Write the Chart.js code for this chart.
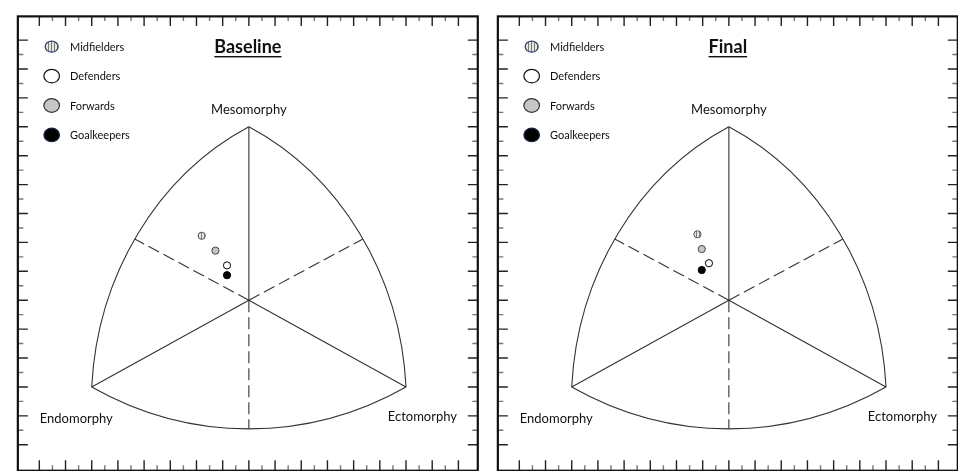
<!DOCTYPE html>
<html>
<head>
<meta charset="utf-8">
<script src="https://cdn.jsdelivr.net/npm/chart.js@4.4.1/dist/chart.umd.min.js"></script>
<style>
  html, body { margin: 0; padding: 0; background: #fff; overflow: hidden; }
  #wrap { position: relative; width: 958px; height: 471px; overflow: hidden; }
  .panel { position: absolute; top: 0; width: 484px; height: 471px; }
</style>
</head>
<body>
<div id="wrap">
  <div class="panel" style="left:0"><canvas id="baselineChart" width="484" height="471"></canvas></div>
  <div class="panel" style="left:480px"><canvas id="finalChart" width="484" height="471"></canvas></div>
</div>
<script>
// somatoplot coordinates (X = ecto - endo, Y = 2*meso - (endo + ecto))
var positions = ["Midfielders", "Defenders", "Forwards", "Goalkeepers"];
var baselineX = [-3.60, -1.67, -2.55, -1.67];
var baselineY = [4.46, 2.41, 3.43, 1.73];
var finalX = [-2.40, -1.52, -2.07, -2.07];
var finalY = [4.56, 2.56, 3.54, 2.09];
var panelTitles = ["Baseline", "Final"];
var axisNames = ["Mesomorphy", "Endomorphy", "Ectomorphy"];

// outline of the somatochart
var corners = { meso: [0, 12], endo: [-12, -6], ecto: [12, -6] };
var bulges = { left: [-8.71, 4.24], right: [8.71, 4.24], bottom: [0, -8.9] };
var box = { left: -17.64, right: 17.48, top: 19.64, bottom: -11.8 };

var xTickVals = [];
for (var i = -16; i <= 16; i++) xTickVals.push(i);
var yTickVals = [];
for (var j = -10; j <= 18; j++) yTickVals.push(j);

function stripePattern() {
  var c = document.createElement("canvas");
  c.width = 3;
  c.height = 3;
  var g = c.getContext("2d");
  g.fillStyle = "#e4e4e4";
  g.fillRect(0, 0, 3, 3);
  g.fillStyle = "#7c7c7c";
  g.fillRect(0, 0, 1, 3);
  return g.createPattern(c, "repeat");
}

var fills = [stripePattern(), "#ffffff", "#c6c6c6", "#000000"];
var borders = ["#555555", "#000000", "#444444", "#000000"];
var legendBorders = ["#2c3d63", "#111111", "#333333", "#1b2847"];

function circleThrough(a, b, c) {
  var d = 2 * (a[0] * (b[1] - c[1]) + b[0] * (c[1] - a[1]) + c[0] * (a[1] - b[1]));
  var a2 = a[0] * a[0] + a[1] * a[1];
  var b2 = b[0] * b[0] + b[1] * b[1];
  var c2 = c[0] * c[0] + c[1] * c[1];
  var h = (a2 * (b[1] - c[1]) + b2 * (c[1] - a[1]) + c2 * (a[1] - b[1])) / d;
  var k = (a2 * (c[0] - b[0]) + b2 * (a[0] - c[0]) + c2 * (b[0] - a[0])) / d;
  return [h, k, Math.hypot(a[0] - h, a[1] - k)];
}

var somatoFrame = {
  id: "somatoFrame",
  beforeDatasetsDraw: function (chart) {
    var ctx = chart.ctx;
    var xs = chart.scales.x;
    var ys = chart.scales.y;
    function X(v) { return xs.getPixelForValue(v); }
    function Y(v) { return ys.getPixelForValue(v); }

    function arc(p1, p2, mid) {
      var c = circleThrough(p1, p2, mid);
      var cx = X(c[0]), cy = Y(c[1]);
      var rx = Math.abs(X(c[0] + c[2]) - cx);
      var ry = Math.abs(Y(c[1] + c[2]) - cy);
      var t1 = -Math.atan2(p1[1] - c[1], p1[0] - c[0]);
      var t2 = -Math.atan2(p2[1] - c[1], p2[0] - c[0]);
      ctx.beginPath();
      ctx.ellipse(cx, cy, rx, ry, 0, t1, t2, true);
      ctx.stroke();
    }
    function seg(p, dash) {
      ctx.setLineDash(dash || []);
      ctx.beginPath();
      ctx.moveTo(X(0), Y(0));
      ctx.lineTo(X(p[0]), Y(p[1]));
      ctx.stroke();
    }

    ctx.save();
    // box and ticks
    var l = X(box.left), r = X(box.right), t = Y(box.top), b = Y(box.bottom);
    ctx.lineWidth = 1.4;
    xTickVals.forEach(function (v) {
      var major = v % 2 === 0;
      var len = major ? 9.5 : 4.5;
      ctx.strokeStyle = major ? "#222" : "#777";
      ctx.beginPath();
      ctx.moveTo(X(v), t);
      ctx.lineTo(X(v), t + len);
      ctx.moveTo(X(v), b);
      ctx.lineTo(X(v), b - len - 1);
      ctx.stroke();
    });
    yTickVals.forEach(function (v) {
      var major = v % 2 === 0;
      var len = major ? 10 : 5.5;
      ctx.strokeStyle = major ? "#222" : "#777";
      ctx.beginPath();
      ctx.moveTo(l, Y(v));
      ctx.lineTo(l + len, Y(v));
      ctx.moveTo(r, Y(v));
      ctx.lineTo(r - len, Y(v));
      ctx.stroke();
    });
    ctx.strokeStyle = "#111";
    ctx.lineWidth = 2.2;
    ctx.strokeRect(l, t, r - l, b - t);

    // somatochart outline
    ctx.strokeStyle = "#333";
    ctx.lineWidth = 1.1;
    arc(corners.meso, corners.endo, bulges.left);
    arc(corners.endo, corners.ecto, bulges.bottom);
    arc(corners.ecto, corners.meso, bulges.right);
    seg(corners.meso);
    seg(corners.endo);
    seg(corners.ecto);
    seg(bulges.left, [12, 5]);
    seg(bulges.right, [12, 5]);
    seg(bulges.bottom, [12, 5]);
    ctx.restore();
  },
  afterDraw: function (chart, args, opts) {
    var ctx = chart.ctx;
    var xs = chart.scales.x;
    var cx = xs.getPixelForValue(0);
    ctx.save();
    ctx.fillStyle = "#111";
    ctx.textBaseline = "middle";

    // panel title, bold and underlined
    ctx.font = "bold 18px Lato, 'Open Sans', sans-serif";
    ctx.textAlign = "center";
    var tx = cx - 1;
    ctx.fillText(opts.title, tx, 47.5);
    var w = ctx.measureText(opts.title).width;
    ctx.fillRect(tx - w / 2, 56, w, 1.4);

    ctx.font = "13px Lato, 'Open Sans', sans-serif";
    ctx.fillText(axisNames[0], cx, 110);
    ctx.textAlign = "left";
    ctx.fillText(axisNames[1], xs.getPixelForValue(corners.endo[0]) - 52, 419);
    ctx.textAlign = "right";
    ctx.fillText(axisNames[2], xs.getPixelForValue(corners.ecto[0]) + 51, 416.5);

    // legend
    ctx.font = "11px Lato, 'Open Sans', sans-serif";
    ctx.textAlign = "left";
    chart.data.datasets.forEach(function (ds, n) {
      var y = 46.7 + n * 29.4;
      ctx.beginPath();
      if (n === 0) ctx.ellipse(51.7, y, 6.5, 5.5, 0, 0, Math.PI * 2);
      else ctx.ellipse(51.7, y, 7.8, 6.8, 0, 0, Math.PI * 2);
      ctx.fillStyle = ds.backgroundColor;
      ctx.fill();
      ctx.lineWidth = 1.2;
      ctx.strokeStyle = legendBorders[n];
      ctx.stroke();
      ctx.fillStyle = "#111";
      ctx.fillText(ds.label, 70, y + 0.5);
    });
    ctx.restore();
  }
};

function makeDatasets(xv, yv) {
  return positions.map(function (name, n) {
    return {
      label: name,
      data: [{ x: xv[n], y: yv[n] }],
      backgroundColor: fills[n],
      borderColor: borders[n],
      borderWidth: 1,
      pointRadius: 3.6,
      pointHoverRadius: 3.6
    };
  });
}

function makeChart(id, title, xv, yv) {
  new Chart(document.getElementById(id).getContext("2d"), {
    type: "scatter",
    data: { datasets: makeDatasets(xv, yv) },
    options: {
      responsive: false,
      animation: false,
      devicePixelRatio: 1,
      layout: { padding: 0 },
      scales: {
        x: { type: "linear", min: -18.652, max: 17.603, display: false },
        y: { type: "linear", min: -11.499, max: 20.455, display: false }
      },
      plugins: {
        legend: { display: false },
        tooltip: { enabled: false },
        somatoFrame: { title: title }
      }
    },
    plugins: [somatoFrame]
  });
}

makeChart("baselineChart", panelTitles[0], baselineX, baselineY);
makeChart("finalChart", panelTitles[1], finalX, finalY);
</script>
</body>
</html>
